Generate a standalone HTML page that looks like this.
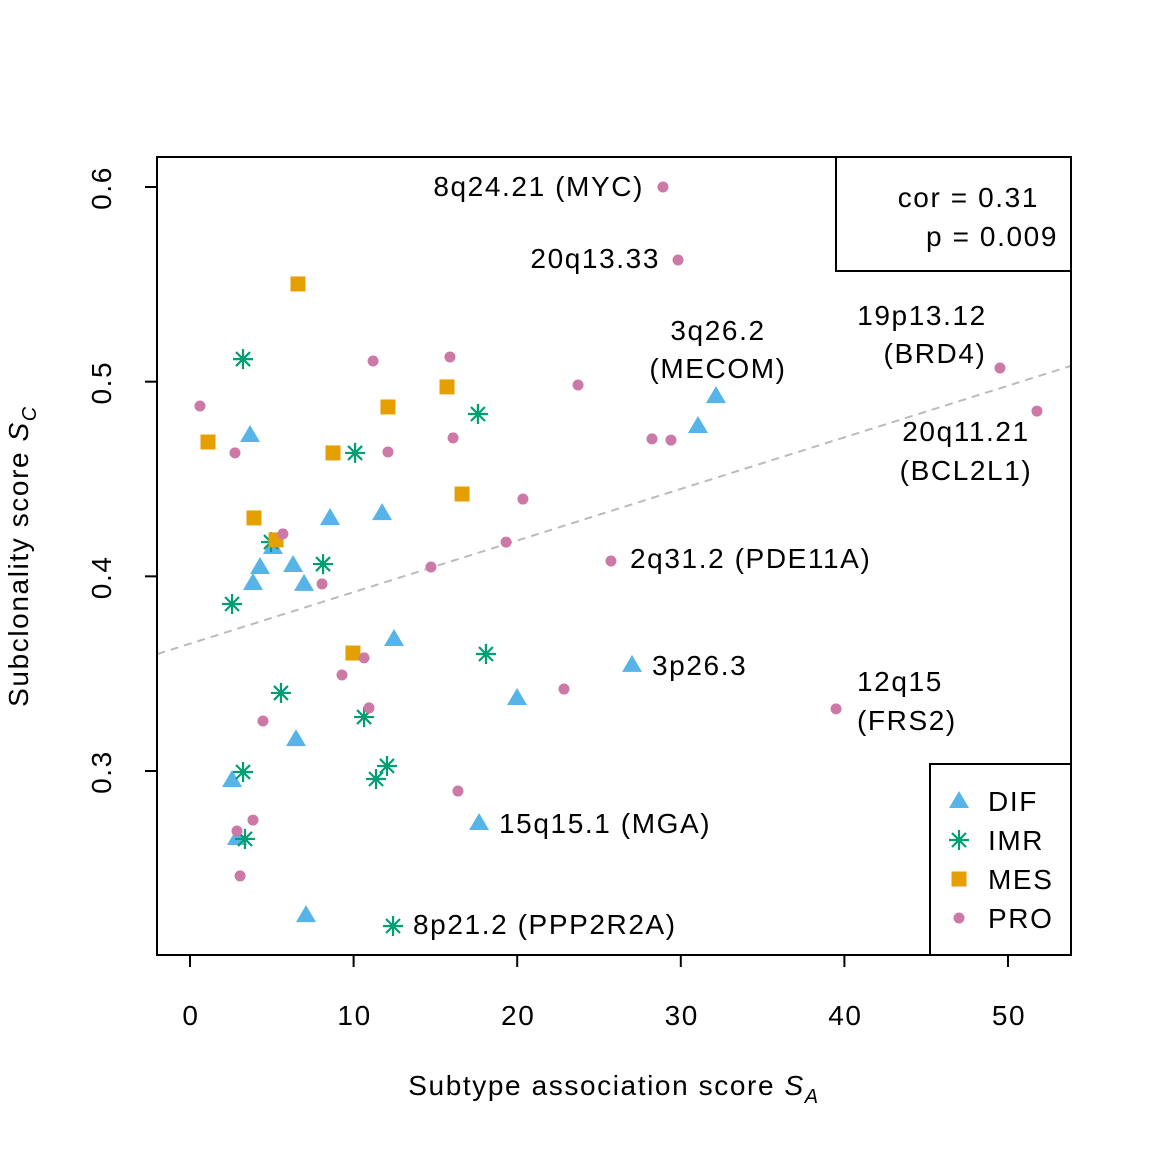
<!DOCTYPE html>
<html><head><meta charset="utf-8"><style>
html,body{margin:0;padding:0;background:#fff;}
svg text{font-family:"Liberation Sans",Arial,sans-serif;fill:#000;letter-spacing:1.6px;}
</style></head><body>
<svg id="chart" width="1152" height="1152" viewBox="0 0 1152 1152" xmlns="http://www.w3.org/2000/svg">
<rect width="1152" height="1152" fill="#fff"/>
<g id="marks"></g>
<g id="axes"></g>
<rect x="157" y="157" width="914" height="798" fill="none" stroke="#000" stroke-width="2"/>
<g font-size="28">
<text x="644" y="196" text-anchor="end">8q24.21 (MYC)</text>
<text x="660" y="268" text-anchor="end">20q13.33</text>
<text x="718" y="340" text-anchor="middle">3q26.2</text>
<text x="718" y="378" text-anchor="middle">(MECOM)</text>
<text x="922" y="325" text-anchor="middle">19p13.12</text>
<text x="935" y="363" text-anchor="middle">(BRD4)</text>
<text x="966" y="441" text-anchor="middle">20q11.21</text>
<text x="966" y="480" text-anchor="middle">(BCL2L1)</text>
<text x="630" y="568">2q31.2 (PDE11A)</text>
<text x="652" y="675">3p26.3</text>
<text x="857" y="691">12q15</text>
<text x="857" y="730">(FRS2)</text>
<text x="499" y="833">15q15.1 (MGA)</text>
<text x="413" y="934">8p21.2 (PPP2R2A)</text>
</g>
<g font-size="28">
<rect x="836" y="157" width="235" height="114" fill="#fff" stroke="#000" stroke-width="2"/>
<text x="1039" y="207" text-anchor="end">cor = 0.31</text>
<text x="1058" y="246" text-anchor="end">p = 0.009</text>
</g>
<g id="legend" font-size="28">
<rect x="930" y="764" width="141" height="191" fill="#fff" stroke="#000" stroke-width="2"/>
</g>
<text x="614" y="1095" font-size="28" text-anchor="middle">Subtype association score <tspan font-style="italic">S</tspan><tspan font-size="20" font-style="italic" dy="8">A</tspan></text>
<text transform="translate(28,556) rotate(-90)" font-size="28" text-anchor="middle">Subclonality score <tspan font-style="italic">S</tspan><tspan font-size="20" font-style="italic" dy="8">C</tspan></text>
</svg>
<script>
const difX=[3.67,32.15,31.05,8.56,11.74,5.07,4.28,3.85,6.30,6.97,12.47,27.02,19.99,6.48,2.57,2.87,17.67,7.09];
const difY=[0.4726,0.4926,0.4772,0.4300,0.4325,0.4151,0.4048,0.3966,0.4058,0.3961,0.3678,0.3545,0.3375,0.3164,0.2954,0.2656,0.2733,0.2260];
const imrX=[3.24,17.60,10.09,4.95,8.13,2.57,18.09,5.56,10.64,3.24,12.04,11.37,3.36,12.41];
const imrY=[0.5116,0.4834,0.4634,0.4176,0.4063,0.3858,0.3601,0.3401,0.3277,0.2995,0.3026,0.2959,0.2651,0.2204];
const mesX=[6.60,1.10,15.71,12.10,8.74,3.91,16.63,5.26,9.96];
const mesY=[0.5502,0.4690,0.4973,0.4870,0.4634,0.4300,0.4423,0.4187,0.3606];
const proX=[28.91,29.83,0.61,11.19,15.89,23.72,49.51,51.77,2.75,16.08,12.10,28.24,29.40,20.35,5.68,19.32,25.73,14.73,8.07,10.64,9.29,10.94,4.46,22.86,39.49,16.38,3.85,2.87,3.06];
const proY=[0.6000,0.5625,0.4875,0.5106,0.5127,0.4983,0.5070,0.4849,0.4634,0.4711,0.4639,0.4706,0.4700,0.4397,0.4218,0.4176,0.4079,0.4048,0.3961,0.3581,0.3493,0.3324,0.3257,0.3421,0.3319,0.2897,0.2748,0.2692,0.2461];
const xTicks=[0,10,20,30,40,50];
const yTicks=[0.3,0.4,0.5,0.6];
const fitIntercept=0.3654, fitSlope=0.00265;
const legendLabels=["DIF","IMR","MES","PRO"];
const colors={DIF:"#56B4E9",IMR:"#009E73",MES:"#E69F00",PRO:"#CC79A7"};

const NS="http://www.w3.org/2000/svg";
const sx=v=>190+v*16.36;
const sy=v=>187+(0.6-v)*1946.7;
const marks=document.getElementById('marks');
const axes=document.getElementById('axes');
const legend=document.getElementById('legend');
function mk(tag,attrs,parent){const e=document.createElementNS(NS,tag);for(const k in attrs)e.setAttribute(k,attrs[k]);parent.appendChild(e);return e;}

const cp=mk('clipPath',{id:'clip'},marks);mk('rect',{x:157,y:157,width:914,height:798},cp);
const fit=mk('line',{x1:sx(-2),y1:sy(fitIntercept+fitSlope*-2),x2:sx(54),y2:sy(fitIntercept+fitSlope*54),stroke:'#bbb','stroke-width':2,'stroke-dasharray':'8,6','clip-path':'url(#clip)'},marks);



function shape(type,cx,cy,parent){
  let e;
  if(type==='DIF'){e=mk('polygon',{points:`${cx},${cy-10} ${cx-10},${cy+7} ${cx+10},${cy+7}`,fill:colors.DIF},parent);}
  else if(type==='IMR'){e=mk('path',{d:`M${cx-10},${cy}H${cx+10}M${cx},${cy-10}V${cy+10}M${cx-7},${cy-7}L${cx+7},${cy+7}M${cx-7},${cy+7}L${cx+7},${cy-7}`,stroke:colors.IMR,'stroke-width':2.2,fill:'none'},parent);}
  else if(type==='MES'){e=mk('rect',{x:cx-7.5,y:cy-7.5,width:15,height:15,fill:colors.MES},parent);}
  else {e=mk('circle',{cx:cx,cy:cy,r:5.5,fill:colors.PRO},parent);}
  return e;
}
const series=[['DIF',difX,difY],['IMR',imrX,imrY],['MES',mesX,mesY],['PRO',proX,proY]];
series.forEach(([t,xs,ys])=>{xs.forEach((x,i)=>{
  const e=shape(t,sx(x),sy(ys[i]),marks);
  
  
});});

xTicks.forEach(t=>{
  const l=mk('line',{x1:sx(t),y1:955,x2:sx(t),y2:967,stroke:'#000','stroke-width':2},axes);
  
  
  const tx=mk('text',{x:sx(t)+1,y:1025,'font-size':28,'text-anchor':'middle'},axes);tx.textContent=t;
  
  
});
yTicks.forEach(t=>{
  const l=mk('line',{x1:145,y1:sy(t),x2:157,y2:sy(t),stroke:'#000','stroke-width':2},axes);
  
  
  const tx=mk('text',{transform:`translate(111,${sy(t)+1}) rotate(-90)`,'font-size':28,'text-anchor':'middle'},axes);tx.textContent=t.toFixed(1);
  
  
});
legendLabels.forEach((lab,i)=>{
  const y=801+i*39;
  const s=shape(lab,959,y,legend);
  
  
  const tx=mk('text',{x:988,y:y+10,'font-size':28},legend);tx.textContent=lab;
  
  
});
</script>
</body></html>
